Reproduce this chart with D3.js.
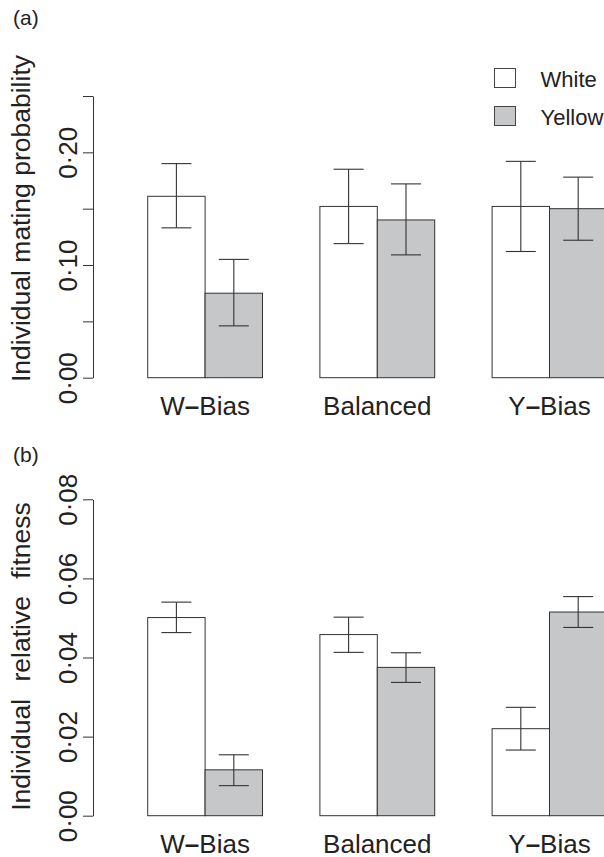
<!DOCTYPE html>
<meta charset="utf-8">
<head>
  <title>Mating probability and relative fitness by bias treatment</title>
</head>

<style>
body { margin: 0; background: white; }
text {
  font-family: "Liberation Sans", Arial, Helvetica, sans-serif;
  fill: #222;
}
.axis path, .axis line { stroke: #333; stroke-width: 1; }
.bar { stroke: #333; stroke-width: 1; }
.err { stroke: #333; stroke-width: 1.1; }
</style>

<body>
  <svg width="604" height="857"></svg>

  <script src="https://cdnjs.cloudflare.com/ajax/libs/d3/7.8.5/d3.min.js"></script>
  <script>
// treatments and morphs
var treatments = ["W\u2013Bias", "Balanced", "Y\u2013Bias"];
var morphs = ["White", "Yellow"];
var morphFill = ["#ffffff", "#c6c7c9"];

// (a) individual mating probability: mean, lower and upper error bar, [white, yellow]
var matingMean  = [[0.161, 0.075], [0.152, 0.140], [0.152, 0.150]];
var matingLow   = [[0.133, 0.046], [0.119, 0.109], [0.112, 0.122]];
var matingHigh  = [[0.190, 0.105], [0.185, 0.172], [0.192, 0.178]];
var matingTicks = [0, 0.05, 0.10, 0.15, 0.20, 0.25];
var matingLabels = [0, 0.10, 0.20];

// (b) individual relative fitness
var fitMean  = [[0.0501, 0.0116], [0.0458, 0.0375], [0.0220, 0.0515]];
var fitLow   = [[0.0463, 0.0076], [0.0413, 0.0337], [0.0166, 0.0476]];
var fitHigh  = [[0.0540, 0.0154], [0.0502, 0.0412], [0.0274, 0.0554]];
var fitTicks = [0, 0.02, 0.04, 0.06, 0.08];

var svg = d3.select("svg");
var fmt = function(v) { return d3.format(".2f")(v).replace(".", "\u00b7"); };

// barplot style x positions: one bar width gap before each pair
var x = d3.scaleLinear().domain([0, 9]).range([90.3, 606.9]);
var axisX = 93;

function panel(opts) {
  var y = d3.scaleLinear().domain(opts.domain).range(opts.range);
  var g = svg.append("g");

  var rows = [];
  treatments.forEach(function(t, i) {
    morphs.forEach(function(m, j) {
      rows.push({t: t, i: i, j: j, mean: opts.mean[i][j], lo: opts.low[i][j], hi: opts.high[i][j]});
    });
  });

  g.selectAll("rect.bar")
    .data(rows)
    .enter()
    .append("rect")
    .attr("class", "bar")
    .attr("x", function(d) { return x(1 + 3 * d.i + d.j); })
    .attr("width", function(d) { return x(2 + 3 * d.i + d.j) - x(1 + 3 * d.i + d.j); })
    .attr("y", function(d) { return y(d.mean); })
    .attr("height", function(d) { return y(0) - y(d.mean); })
    .attr("fill", function(d) { return morphFill[d.j]; });

  var cx = function(d) { return x(1.5 + 3 * d.i + d.j); };
  var errs = g.selectAll("g.err")
    .data(rows)
    .enter()
    .append("g")
    .attr("class", "err");
  errs.append("line")
    .attr("x1", cx).attr("x2", cx)
    .attr("y1", function(d) { return y(d.lo); })
    .attr("y2", function(d) { return y(d.hi); });
  errs.append("line")
    .attr("x1", function(d) { return cx(d) - 15; })
    .attr("x2", function(d) { return cx(d) + 15; })
    .attr("y1", function(d) { return y(d.hi); })
    .attr("y2", function(d) { return y(d.hi); });
  errs.append("line")
    .attr("x1", function(d) { return cx(d) - 15; })
    .attr("x2", function(d) { return cx(d) + 15; })
    .attr("y1", function(d) { return y(d.lo); })
    .attr("y2", function(d) { return y(d.lo); });

  // y axis, labels parallel to the axis
  var ax = g.append("g")
    .attr("class", "axis")
    .attr("transform", "translate(" + axisX + ",0)")
    .call(d3.axisLeft(y)
      .tickValues(opts.ticks)
      .tickSize(10)
      .tickSizeOuter(0)
      .tickFormat(function(v) {
        return opts.labels.some(function(l) { return Math.abs(l - v) < 1e-9; }) ? fmt(v) : "";
      }));
  ax.select(".domain").attr("stroke", "#333");
  ax.selectAll("text")
    .attr("transform", "rotate(-90)")
    .attr("x", 0)
    .attr("y", -16)
    .attr("dy", 0)
    .attr("text-anchor", "middle")
    .attr("fill", "#222")
    .style("font-size", "26px");

  // category labels, dash drawn a little heavier like the original
  var cats = g.selectAll("text.cat")
    .data(treatments)
    .enter()
    .append("text")
    .attr("class", "cat")
    .attr("x", function(d, i) { return x(2 + 3 * i); })
    .attr("y", y(0) + 36.8)
    .attr("text-anchor", "middle")
    .style("font-size", "26px");
  cats.selectAll("tspan")
    .data(function(d) { return d.split(/(\u2013)/); })
    .enter()
    .append("tspan")
    .style("font-weight", function(s) { return s === "\u2013" ? "bold" : null; })
    .text(function(s) { return s; });

  // axis title
  g.append("text")
    .attr("transform", "translate(29.5," + opts.titleY + ") rotate(-90)")
    .attr("text-anchor", "middle")
    .style("font-size", "26.5px")
    .style("word-spacing", opts.wordSpacing + "px")
    .text(opts.title);

  // panel letter
  g.append("text")
    .attr("x", 13)
    .attr("y", opts.letterY)
    .style("font-size", "21px")
    .text(opts.letter);
}

panel({
  mean: matingMean, low: matingLow, high: matingHigh,
  domain: [0, 0.25], range: [377.7, 96],
  ticks: matingTicks, labels: matingLabels,
  title: "Individual mating probability", titleY: 218.5, wordSpacing: 0,
  letter: "(a)", letterY: 24.5
});

panel({
  mean: fitMean, low: fitLow, high: fitHigh,
  domain: [0, 0.08], range: [815.7, 499.3],
  ticks: fitTicks, labels: fitTicks,
  title: "Individual relative fitness", titleY: 656.5, wordSpacing: 10,
  letter: "(b)", letterY: 462
});

// legend
var legend = svg.append("g")
  .selectAll("g")
  .data(morphs)
  .enter()
  .append("g")
  .attr("transform", function(d, i) { return "translate(494.5," + (68.5 + i * 38) + ")"; });
legend.append("rect")
  .attr("width", 21)
  .attr("height", 19)
  .attr("fill", function(d, i) { return morphFill[i]; })
  .attr("stroke", "#444");
legend.append("text")
  .attr("x", 46)
  .attr("y", 18)
  .style("font-size", "22px")
  .text(function(d) { return d; });
  </script>
</body>
</html>
